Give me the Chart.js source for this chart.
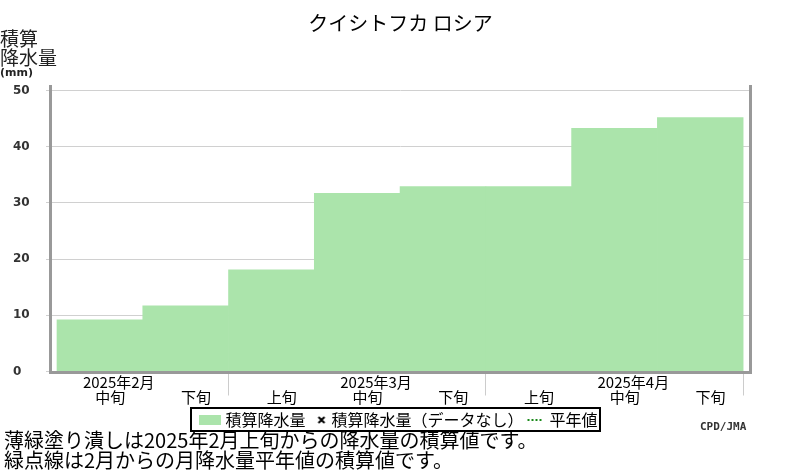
<!DOCTYPE html>
<html><head><meta charset="utf-8">
<script src="https://cdn.jsdelivr.net/npm/chart.js@4"></script>
<style>
html,body{margin:0;padding:0;background:#fff;}
#wrap{position:relative;width:800px;height:470px;overflow:hidden;}
canvas{position:absolute;left:0;top:0;}
.t{position:absolute;font-family:"Noto Sans CJK JP",sans-serif;color:#000;white-space:nowrap;}
</style></head><body>
<div id="wrap">
<canvas id="c" width="800" height="470"></canvas>
<div class="t" style="left:0;top:28px;font-size:19px;line-height:19px;color:#222;">積算<br>降水量</div>
<div class="t" style="left:0;top:66px;font-size:11px;line-height:13px;font-weight:bold;font-family:'DejaVu Sans',sans-serif;color:#222;">(mm)</div>
<div class="t" style="left:4px;top:430px;font-size:20px;line-height:20px;">薄緑塗り潰しは2025年2月上旬からの降水量の積算値です。<br>緑点線は2月からの月降水量平年値の積算値です。</div>
<div class="t" style="left:700px;top:420px;font-size:11px;font-weight:bold;font-family:'DejaVu Sans Mono',monospace;color:#333;">CPD/JMA</div>
</div>
<script>
const titleText = 'クイシトフカ ロシア';
const dekadLabels = ['中旬','下旬','上旬','中旬','下旬','上旬','中旬','下旬'];
const monthLabels = ['2025年2月','2025年3月','2025年4月'];
const monthLabelAt = [0, 3, 6];
const monthBoundaries = [2, 5, 8];
const precip = [9.2, 11.7, 18.1, 31.7, 32.9, 32.9, 43.3, 45.2];
const legendNames = ['積算降水量', '積算降水量（データなし）', '平年値'];
const yMin = 0, yMax = 51, yStep = 10;

const FONT = '"Noto Sans CJK JP", sans-serif';
const FILL = '#abe4ab';

// legend markers
const rectMark = document.createElement('canvas');
rectMark.width = 22; rectMark.height = 10;
(function () {
  const g = rectMark.getContext('2d');
  g.fillStyle = FILL; g.fillRect(0, 0, 22, 10);
})();
const xMark = document.createElement('canvas');
xMark.width = 22; xMark.height = 8;
(function () {
  const g = xMark.getContext('2d');
  g.strokeStyle = '#000'; g.lineWidth = 2;
  g.beginPath();
  g.moveTo(13, 1); g.lineTo(19, 7);
  g.moveTo(19, 1); g.lineTo(13, 7);
  g.stroke();
})();

const framePlugin = {
  id: 'frame',
  afterDatasetsDraw(chart) {
    const {ctx, chartArea: a} = chart;
    ctx.save();
    ctx.fillStyle = '#999';
    ctx.fillRect(a.left - 2, a.top, 3, a.bottom - a.top + 2);
    ctx.fillRect(a.left - 2, a.bottom - 0.5, a.right - a.left + 4, 3);
    ctx.fillRect(a.right - 1, a.top, 3, a.bottom - a.top + 2);
    ctx.restore();
  },
  afterDraw(chart) {
    const hb = chart.legend && chart.legend.legendHitBoxes;
    if (!hb || !hb.length) return;
    const first = hb[0], last = hb[hb.length - 1];
    const ctx = chart.ctx;
    ctx.save();
    ctx.strokeStyle = '#000';
    ctx.lineWidth = 2;
    const l = Math.round(first.left - 12), t = Math.round(first.top - 4);
    const r = Math.round(last.left + last.width + 2), b = Math.round(first.top + first.height + 3);
    ctx.strokeRect(l, t, r - l, b - t);
    ctx.restore();
  }
};

new Chart(document.getElementById('c'), {
  data: {
    datasets: [
      {
        type: 'bar',
        label: legendNames[0],
        data: precip.map((v, i) => ({x: i + 0.5, y: v})),
        backgroundColor: FILL,
        borderWidth: 0,
        barThickness: 'flex',
        barPercentage: 1,
        categoryPercentage: 1
      },
      {
        type: 'line',
        label: legendNames[1],
        data: [],
        borderColor: '#000',
        pointStyle: 'crossRot'
      },
      {
        type: 'line',
        label: legendNames[2],
        data: [],
        borderColor: '#1a8a1a',
        borderDash: [2, 2]
      }
    ]
  },
  options: {
    responsive: false,
    animation: false,
    devicePixelRatio: 1,
    layout: {padding: {left: 13, right: 50, top: 0, bottom: 32}},
    plugins: {
      title: {
        display: true,
        text: titleText,
        fullSize: false,
        color: '#000',
        font: {family: FONT, size: 20, weight: 'normal', lineHeight: 1.2},
        padding: {top: 11, bottom: 50}
      },
      legend: {
        display: true,
        position: 'bottom',
        fullSize: false,
        labels: {
          usePointStyle: true,
          pointStyleWidth: 14,
          boxHeight: 10,
          padding: 4,
          color: '#000',
          font: {family: FONT, size: 16},
          generateLabels(chart) {
            const styles = [
              {pointStyle: rectMark, fillStyle: FILL, strokeStyle: FILL, lineWidth: 0, lineDash: []},
              {pointStyle: xMark, fillStyle: 'rgba(0,0,0,0)', strokeStyle: '#000', lineWidth: 0, lineDash: []},
              {pointStyle: 'line', fillStyle: 'rgba(0,0,0,0)', strokeStyle: '#1a8a1a', lineWidth: 2, lineDash: [2, 2]}
            ];
            return chart.data.datasets.map((ds, i) => Object.assign({
              text: ds.label, datasetIndex: i, hidden: false, fontColor: '#000'
            }, styles[i]));
          }
        },
        onClick() {}
      },
      tooltip: {enabled: false}
    },
    scales: {
      x: {
        type: 'linear',
        offset: false,
        min: -0.07,
        max: 8.08,
        border: {display: false},
        grid: {
          offset: false,
          drawOnChartArea: false,
          drawTicks: true,
          tickLength: 24,
          color: (ctx) => (ctx.tick && ctx.tick.kind === 'b') ? '#cccccc' : 'rgba(0,0,0,0)',
          lineWidth: 1
        },
        afterBuildTicks(scale) {
          const t = [];
          dekadLabels.forEach((d, i) => t.push({value: i + 0.62, kind: 'd', lbl: ['', d]}));
          monthLabels.forEach((m, k) => t.push({value: monthLabelAt[k] + 0.72, kind: 'm', lbl: [m, '']}));
          monthBoundaries.forEach((b) => t.push({value: b, kind: 'b', lbl: ''}));
          t.sort((a, b) => a.value - b.value);
          scale.ticks = t;
        },
        afterFit(scale) { scale.height = 36.5; },
        ticks: {
          autoSkip: false,
          maxRotation: 0,
          minRotation: 0,
          padding: -21,
          color: '#000',
          font: {family: FONT, size: 15, lineHeight: 1},
          callback(value, index, ticks) { return ticks[index].lbl; }
        }
      },
      y: {
        type: 'linear',
        min: yMin,
        max: yMax,
        border: {display: false},
        grid: {color: '#d0d0d0', lineWidth: 1, drawTicks: true, tickLength: 5},
        afterFit(scale) { scale.width = 38; },
        ticks: {
          stepSize: yStep,
          includeBounds: false,
          crossAlign: 'far',
          color: '#333',
          font: {family: '"DejaVu Sans", sans-serif', size: 12, weight: 'bold'}
        }
      }
    }
  },
  plugins: [framePlugin]
});
</script>
</body></html>
